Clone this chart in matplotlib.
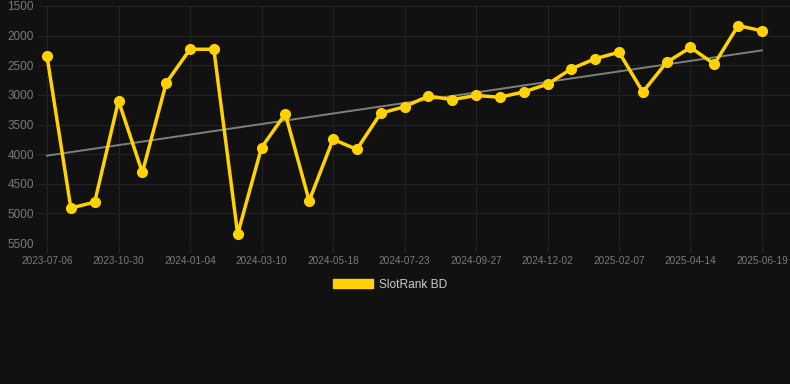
import numpy as np
import matplotlib
matplotlib.use('Agg')
import matplotlib.pyplot as plt
from matplotlib.patches import Patch

plt.rcParams['font.family'] = ['Liberation Sans', 'DejaVu Sans']

bg = '#111111'
gold = '#FFD200'

tick_dates = ['2023-07-06', '2023-10-30', '2024-01-04', '2024-03-10', '2024-05-18',
              '2024-07-23', '2024-09-27', '2024-12-02', '2025-02-07', '2025-04-14',
              '2025-06-19']
ranks = [2350, 4910, 4810, 3100, 4310, 2800, 2230, 2230, 5350, 3890,
         3320, 4790, 3750, 3920, 3310, 3200, 3020, 3080, 3010, 3040,
         2950, 2820, 2560, 2390, 2280, 2950, 2450, 2200, 2480, 1830, 1920]
series_name = 'SlotRank BD'

x = np.arange(len(ranks))
coef = np.polyfit(x, ranks, 1)
trend = np.polyval(coef, x)

fig = plt.figure(figsize=(7.9, 3.84), dpi=100, facecolor=bg)
ax = fig.add_axes([38/790, 1-243/384, 1-38/790, (243-6)/384])
ax.set_facecolor(bg)

ax.plot(x, trend, color='#7f7f7f', lw=1.4, zorder=2)
ax.plot(x, ranks, color=gold, lw=2.5, marker='o', markersize=7, zorder=3)

ax.set_ylim(5500, 1500)
ax.set_yticks(np.arange(1500, 5501, 500))
ax.set_xlim(-0.378, 31.175)
ax.set_xticks(x[::3])
ax.set_xticklabels(tick_dates)

ax.grid(True, color='#222222', lw=0.8)
ax.set_axisbelow(True)
for s in ax.spines.values():
    s.set_visible(False)
ax.tick_params(axis='y', length=0, pad=3, labelcolor='#7a7a7a', labelsize=8.5)
ax.tick_params(axis='x', length=7, color='#222222', pad=2, labelcolor='#7a7a7a', labelsize=7.2)

fig.legend(handles=[Patch(color=gold)], labels=[series_name], loc='center',
           bbox_to_anchor=(0.494, 0.259), frameon=False, fontsize=8.6,
           handlelength=3.3, handleheight=0.85, handletextpad=0.5,
           labelcolor='#cccccc')

fig.savefig('out.png', dpi=100, facecolor=bg)
